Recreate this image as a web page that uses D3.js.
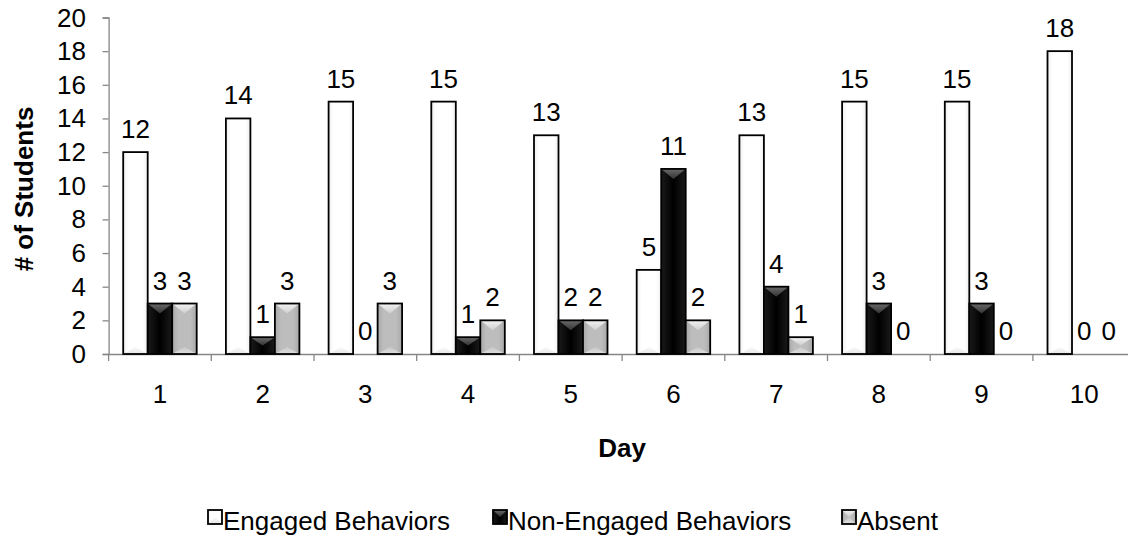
<!DOCTYPE html>
<html><head><meta charset="utf-8">
<script src="https://cdn.jsdelivr.net/npm/d3@7"></script>
<style>body{margin:0;background:#fff}svg{display:block}text{font-family:"Liberation Sans",Arial,sans-serif;fill:#000}</style>
</head><body><svg id="c" width="1128" height="537"></svg>
<script>
const days = ["1","2","3","4","5","6","7","8","9","10"];
const seriesNames = ["Engaged Behaviors","Non-Engaged Behaviors","Absent"];
const engaged = [12,14,15,15,13,5,13,15,15,18];
const nonEngaged = [3,1,0,1,2,11,4,3,3,0];
const absent = [3,3,3,2,2,2,1,0,0,0];
const yTicks = [0,2,4,6,8,10,12,14,16,18,20];
const seriesValues = [engaged, nonEngaged, absent];

const svg = d3.select("#c");
const FS = "26px";
const defs = svg.append("defs");
function lg(id, stops, horiz){
  const g = defs.append("linearGradient").attr("id", id)
    .attr("x1",0).attr("y1",0).attr("x2",horiz?1:0).attr("y2",horiz?0:1);
  stops.forEach(s=>g.append("stop").attr("offset",s[0]).attr("stop-color",s[1]));
}
lg("gWhite", [[0,"#efefef"],[0.2,"#ffffff"],[0.8,"#ffffff"],[1,"#efefef"]], true);
lg("gBlack", [[0,"#1a1a1a"],[0.5,"#000"],[1,"#1a1a1a"]], true);
lg("gGray", [[0,"#a8a8a8"],[0.25,"#bdbdbd"],[0.75,"#bdbdbd"],[1,"#a8a8a8"]], true);
lg("tBlack", [[0,"#6a6a6a"],[1,"#333"]], false);
lg("tGray", [[0,"#f2f2f2"],[1,"#cfcfcf"]], false);
lg("bGray", [[0,"#c8c8c8"],[1,"#dedede"]], false);
lg("bWhite", [[0,"#fafafa"],[1,"#e6e6e6"]], false);

const styles = [
  {fill:"url(#gWhite)", top:null, bottom:"url(#bWhite)"},
  {fill:"url(#gBlack)", top:"url(#tBlack)", bottom:null},
  {fill:"url(#gGray)", top:"url(#tGray)", bottom:"url(#bGray)"}
];

const x0 = d3.scaleBand().domain(days).range([108.6, 1135.6]).paddingInner(0).paddingOuter(0);
const bw = x0.bandwidth();
const barW = 24.5;
const gap = (bw - 3*barW)/2;
const x1 = d3.scaleBand().domain(seriesNames).range([gap, bw-gap]).padding(0);
const y = d3.scaleLinear().domain([0,20]).range([354, 17.5]);

function txt(t, x, yy, anchor){
  return svg.append("text").text(t).style("font-size",FS)
    .attr("x",x).attr("y",yy).attr("text-anchor",anchor);
}

// Y axis
const yAxis = svg.append("g").attr("transform","translate(108.6,0)")
  .call(d3.axisLeft(y).tickValues(yTicks).tickSize(6).tickFormat(""));
yAxis.select(".domain").attr("stroke","#868686").attr("stroke-width",1.3);
yAxis.selectAll(".tick line").attr("stroke","#868686").attr("stroke-width",1.3);
yTicks.forEach(t=>{ txt(t, 86, y(t)+9, "end"); });

// X axis
const xAxis = svg.append("g").attr("transform","translate(0,354)")
  .call(d3.axisBottom(x0).tickSize(0).tickFormat(""));
xAxis.select(".domain").attr("stroke","#868686").attr("stroke-width",1.3);
const bounds = days.map((d,i)=>x0(d)).concat([x0(days[days.length-1])+bw]);
svg.append("g").selectAll("line").data(bounds).join("line")
  .attr("x1",d=>d).attr("x2",d=>d).attr("y1",354).attr("y2",361)
  .attr("stroke","#868686").attr("stroke-width",1.3);
days.forEach(d=>{ txt(d, x0(d)+bw/2, 403, "middle"); });

// bars
function drawBar(g, bx, by, w, h, st){
  if(h<=0) return;
  g.append("rect").attr("x",bx).attr("y",by).attr("width",w).attr("height",h).attr("fill",st.fill);
  const d = Math.min(10, h/2);
  if(st.top) g.append("path").attr("d",`M${bx},${by}L${bx+w},${by}L${bx+w/2},${by+d}Z`).attr("fill",st.top);
  if(st.bottom) g.append("path").attr("d",`M${bx},${by+h}L${bx+w},${by+h}L${bx+w/2},${by+h-Math.min(7,h/2)}Z`).attr("fill",st.bottom);
  g.append("rect").attr("x",bx).attr("y",by).attr("width",w).attr("height",h)
    .attr("fill","none").attr("stroke","#000").attr("stroke-width",1.8);
}
const barsG = svg.append("g");
seriesNames.forEach((s,si)=>{
  days.forEach((d,i)=>{
    const v = seriesValues[si][i];
    drawBar(barsG, x0(d)+x1(s), y(v), barW, y(0)-y(v), styles[si]);
  });
});
// labels
seriesNames.forEach((s,si)=>{
  days.forEach((d,i)=>{
    const v = seriesValues[si][i];
    txt(v, x0(d)+x1(s)+barW/2, y(v)-14, "middle");
  });
});

// axis titles
svg.append("text").text("# of Students").style("font-size",FS).style("font-weight","bold")
  .attr("text-anchor","middle").attr("transform","translate(33,189) rotate(-90)");
txt("Day", 622, 457, "middle").style("font-weight","bold");

// legend
const legendItems = [
  {name:seriesNames[0], bx:208, st:styles[0]},
  {name:seriesNames[1], bx:493, st:styles[1]},
  {name:seriesNames[2], bx:842, st:styles[2]}
];
const lgG = svg.append("g");
legendItems.forEach(it=>{
  drawBar(lgG, it.bx, 510, 14, 14, it.st);
  txt(it.name, it.bx+15, 530, "start");
});
</script></body></html>
